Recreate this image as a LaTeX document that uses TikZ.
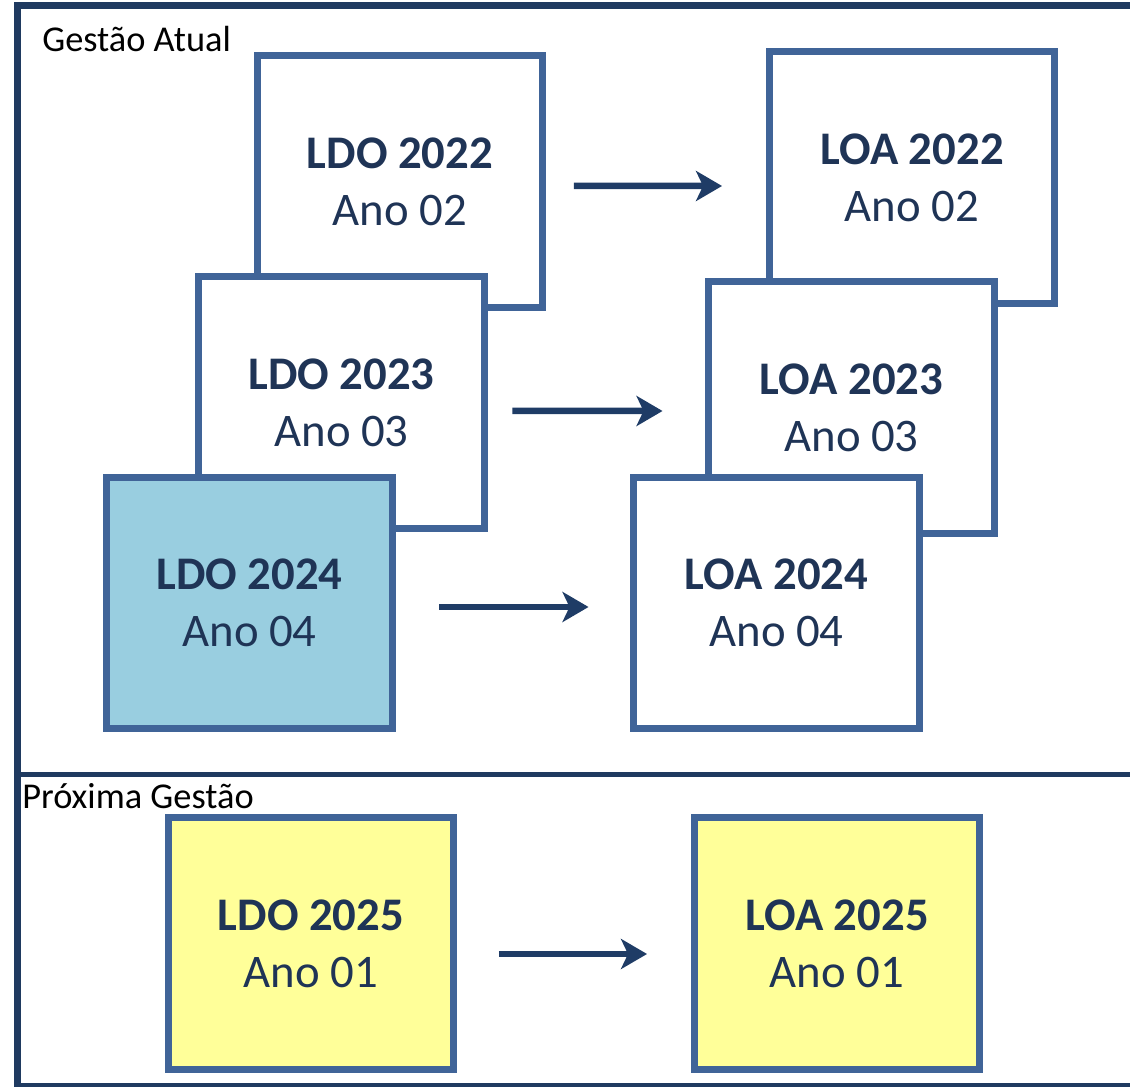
\documentclass[tikz,border=0pt]{standalone}
\usepackage{fontspec}
\setmainfont{Carlito}
\usetikzlibrary{positioning, arrows.meta}
\definecolor{boxline}{RGB}{64,100,152}
\definecolor{frameline}{RGB}{31,58,96}
\definecolor{labeltext}{RGB}{31,52,86}
\definecolor{arrowcol}{RGB}{31,60,102}
\definecolor{ldoblue}{RGB}{153,206,224}
\definecolor{ldoyellow}{RGB}{255,255,153}
\begin{document}
\begin{tikzpicture}[x=0.02cm, y=-0.02cm,
					doc/.style={draw=boxline, line width=0.14cm, fill=white, minimum width=5.72cm, minimum height=5.03cm,
						inner sep=0pt, outer sep=0pt, align=center, text=labeltext, font=\fontsize{26.6}{32.4}\selectfont},
					arr/.style={arrowcol, line width=0.13cm, -{Stealth[length=0.52cm, width=0.6cm, inset=0.14cm]}},
					frame/.style={frameline, line width=0.14cm},
					title/.style={anchor=base west, inner sep=0pt, font=\fontsize{20.7}{24}\selectfont}]
					\useasboundingbox (0,0) rectangle (1130,1087);
					% frame of the two periods
					\draw[frame] (1140,6) -- (17.5,6) -- (17.5,1086) -- (1140,1086);
					\draw[frame, line width=0.11cm] (17.5,774.5) -- (1140,774.5);
					\node[title] (atual) at (42,52) {Gestão Atual};
					\node[title] (proxima) at (22,808) {Próxima Gestão};
					% current administration
					\node[doc] (ldo22) at (400,181.5) {\textbf{LDO 2022}\\Ano 02};
					\node[doc] (ldo23) at (341.5,402.5) {\textbf{LDO 2023}\\Ano 03};
					\node[doc, fill=ldoblue] (ldo24) at (249.5,603) {\textbf{LDO 2024}\\Ano 04};
					\node[doc] (loa22) at (912,177.5) {\textbf{LOA 2022}\\Ano 02};
					\node[doc] (loa23) at (851.5,407.5) {\textbf{LOA 2023}\\Ano 03};
					\node[doc] (loa24) at (776.5,603) {\textbf{LOA 2024}\\Ano 04};
					\draw[arr] ([xshift=0.62cm, yshift=-0.09cm]ldo22.east) -- ([xshift=-0.94cm, yshift=-0.17cm]loa22.west);
					\draw[arr] ([xshift=0.56cm, yshift=-0.17cm]ldo23.east) -- ([xshift=-0.92cm, yshift=-0.07cm]loa23.west);
					\draw[arr] ([xshift=0.94cm, yshift=-0.08cm]ldo24.east) -- ([xshift=-0.9cm, yshift=-0.08cm]loa24.west);
					% next administration
					\node[doc, fill=ldoyellow] (ldo25) at (311,943.5) {\textbf{LDO 2025}\\Ano 01};
					\node[doc, fill=ldoyellow] (loa25) at (837,943.5) {\textbf{LOA 2025}\\Ano 01};
					\draw[arr] ([xshift=0.9cm, yshift=-0.21cm]ldo25.east) -- ([xshift=-0.94cm, yshift=-0.21cm]loa25.west);
				\end{tikzpicture}
\end{document}
